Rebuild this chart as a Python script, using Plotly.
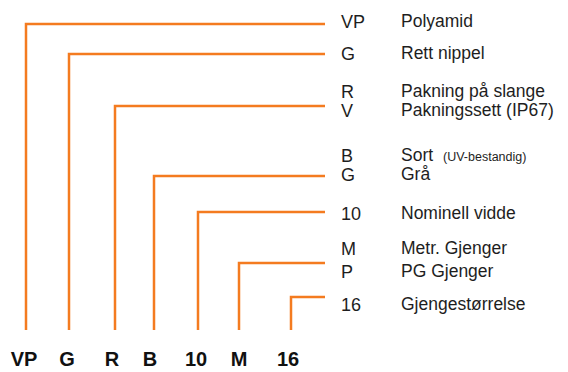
import plotly.graph_objects as go

# --- data ---
code_parts = ["VP", "G", "R", "B", "10", "M", "16"]
column_x = [26, 69, 115, 154, 198, 239, 291]
branch_y = [24, 54, 106, 176, 212, 263, 297]
bottom_label_x = [24, 67, 112, 150, 196, 239, 288]

option_codes = ["VP", "G", "R", "V", "B", "G", "10", "M", "P", "16"]
option_texts = ["Polyamid", "Rett nippel", "Pakning på slange", "Pakningssett (IP67)",
                "Sort", "Grå",
                "Nominell vidde", "Metr. Gjenger", "PG Gjenger", "Gjengestørrelse"]
option_y = [23, 55, 93, 112, 157, 176, 215, 250, 273, 306]
note_text = "(UV-bestandig)"
note_y = 158

line_end_x = 325
line_bottom_y = 330
bottom_label_y = 361
code_x = 341
desc_x = 401
note_x = 443

ORANGE = "#F47B20"
TEXT = "#1e1e1e"

fig = go.Figure()

# bracket lines
xs, ys = [], []
for cx, by in zip(column_x, branch_y):
    xs += [cx, cx, line_end_x, None]
    ys += [line_bottom_y, by, by, None]
fig.add_trace(go.Scatter(x=xs, y=ys, mode="lines",
                         line=dict(color=ORANGE, width=2.5), hoverinfo="skip",
                         showlegend=False))

# bottom code labels
fig.add_trace(go.Scatter(x=bottom_label_x, y=[bottom_label_y] * len(code_parts),
                         mode="text", text=[f"<b>{c}</b>" for c in code_parts],
                         textposition="middle center", cliponaxis=False,
                         textfont=dict(family="Liberation Sans, Arial", size=20, color="#111"),
                         hoverinfo="skip", showlegend=False))

# option codes
fig.add_trace(go.Scatter(x=[code_x] * len(option_codes), y=option_y, mode="text",
                         text=option_codes, textposition="middle right", cliponaxis=False,
                         textfont=dict(family="Liberation Sans, Arial", size=18, color=TEXT),
                         hoverinfo="skip", showlegend=False))

# option descriptions
fig.add_trace(go.Scatter(x=[desc_x] * len(option_texts), y=option_y, mode="text",
                         text=option_texts, textposition="middle right", cliponaxis=False,
                         textfont=dict(family="Liberation Sans, Arial", size=17.5, color=TEXT),
                         hoverinfo="skip", showlegend=False))

# small note
fig.add_trace(go.Scatter(x=[note_x], y=[note_y], mode="text",
                         text=[note_text], textposition="middle right", cliponaxis=False,
                         textfont=dict(family="Liberation Sans, Arial", size=12.5, color=TEXT),
                         hoverinfo="skip", showlegend=False))

fig.update_layout(
    width=568, height=372,
    margin=dict(l=0, r=0, t=0, b=0),
    paper_bgcolor="white", plot_bgcolor="white",
    xaxis=dict(range=[0, 568], visible=False, fixedrange=True),
    yaxis=dict(range=[372, 0], visible=False, fixedrange=True),
)

fig.write_html("out.html", config={"displayModeBar": False},
               post_script="document.body.style.margin='0';document.body.style.padding='0';")
